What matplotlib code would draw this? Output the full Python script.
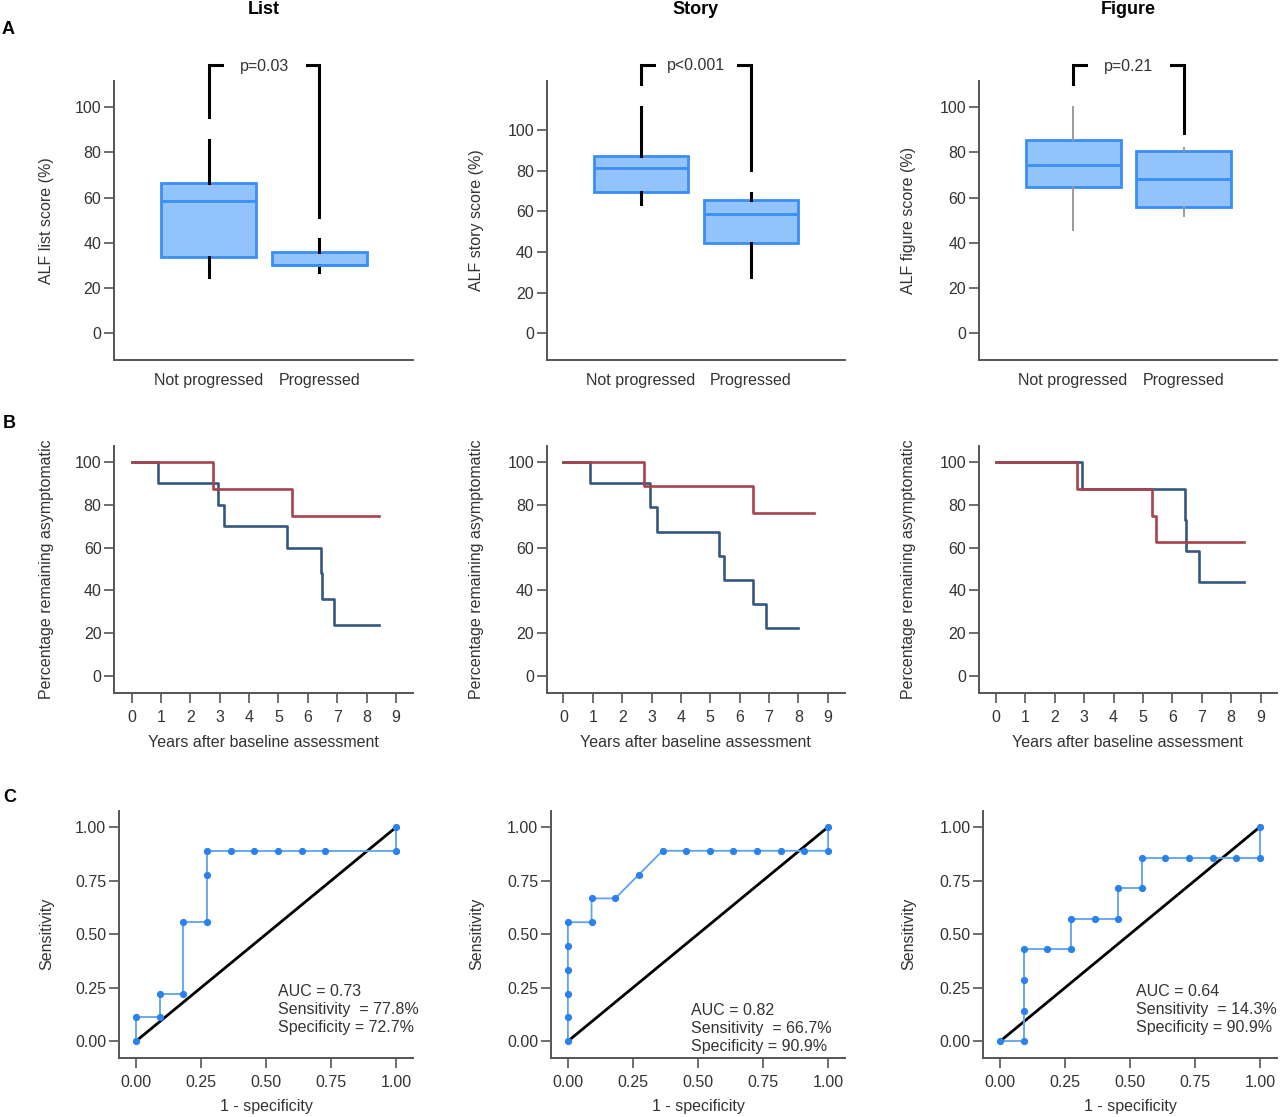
import matplotlib
matplotlib.use("Agg")
import matplotlib.pyplot as plt

plt.rcParams['font.family'] = ['Liberation Sans', 'DejaVu Sans']

# ---------------- data ----------------
titles = ["List", "Story", "Figure"]
groups = ["Not progressed", "Progressed"]
box_ylabels = ["ALF list score (%)", "ALF story score (%)", "ALF figure score (%)"]
# [whislo, q1, median, q3, whishi] per group
list_np = [25.0, 33.9, 58.5, 66.4, 85.5]
list_p = [27.3, 30.2, 30.2, 36.0, 41.6]
story_np = [63.6, 69.7, 81.5, 87.4, 111.2]
story_p = [27.9, 44.6, 58.8, 65.6, 69.2]
figure_np = [45.7, 64.9, 74.6, 85.4, 100.0]
figure_p = [51.9, 56.0, 68.1, 80.8, 82.1]
p_values = ["p=0.03", "p<0.001", "p=0.21"]
# bracket: left leg bottom, right leg bottom, top
brackets = [[95.6, 51.6, 118.7], [122.5, 80.3, 132.0], [110.2, 88.5, 118.7]]

# Kaplan-Meier curves (years, % remaining asymptomatic)
km_list_blue_t = [0, 0.91, 2.93, 3.14, 5.28, 6.44, 6.47, 6.89, 8.43]
km_list_blue_s = [100, 90, 80, 70, 60, 48, 36, 24, 24]
km_list_red_t = [0, 2.76, 5.47, 8.43]
km_list_red_s = [100, 87.5, 75, 75]
km_story_blue_t = [0, 0.92, 2.94, 3.17, 5.30, 5.48, 6.45, 6.90, 8.0]
km_story_blue_s = [100, 90, 78.9, 67.5, 56.3, 45, 33.8, 22.5, 22.5]
km_story_red_t = [0, 2.76, 6.45, 8.54]
km_story_red_s = [100, 88.9, 76.2, 76.2]
km_figure_blue_t = [0, 2.94, 6.43, 6.46, 6.90, 8.45]
km_figure_blue_s = [100, 87.5, 72.9, 58.3, 43.8, 43.8]
km_figure_red_t = [0, 2.77, 5.29, 5.44, 8.45]
km_figure_red_s = [100, 87.5, 75, 62.5, 62.5]

# ROC curves
roc_list_x = [0, 0, 1/11, 1/11, 2/11, 2/11, 3/11, 3/11, 3/11, 4/11, 5/11, 6/11, 7/11, 8/11, 1, 1]
roc_list_y = [0, 1/9, 1/9, 2/9, 2/9, 5/9, 5/9, 7/9, 8/9, 8/9, 8/9, 8/9, 8/9, 8/9, 8/9, 1]
roc_story_x = [0, 0, 0, 0, 0, 0, 1/11, 1/11, 2/11, 3/11, 4/11, 5/11, 6/11, 7/11, 8/11, 9/11, 10/11, 1, 1]
roc_story_y = [0, 1/9, 2/9, 3/9, 4/9, 5/9, 5/9, 6/9, 6/9, 7/9, 8/9, 8/9, 8/9, 8/9, 8/9, 8/9, 8/9, 8/9, 1]
roc_figure_x = [0, 1/11, 1/11, 1/11, 1/11, 2/11, 3/11, 3/11, 4/11, 5/11, 5/11, 6/11, 6/11, 7/11, 8/11, 9/11, 10/11, 1, 1]
roc_figure_y = [0, 0, 1/7, 2/7, 3/7, 3/7, 3/7, 4/7, 4/7, 4/7, 5/7, 5/7, 6/7, 6/7, 6/7, 6/7, 6/7, 6/7, 1]
roc_texts = ["AUC = 0.73\nSensitivity  = 77.8%\nSpecificity = 72.7%",
             "AUC = 0.82\nSensitivity  = 66.7%\nSpecificity = 90.9%",
             "AUC = 0.64\nSensitivity  = 14.3%\nSpecificity = 90.9%"]

box_stats = [(list_np, list_p), (story_np, story_p), (figure_np, figure_p)]
km_data = [(km_list_blue_t, km_list_blue_s, km_list_red_t, km_list_red_s),
           (km_story_blue_t, km_story_blue_s, km_story_red_t, km_story_red_s),
           (km_figure_blue_t, km_figure_blue_s, km_figure_red_t, km_figure_red_s)]
roc_data = [(roc_list_x, roc_list_y), (roc_story_x, roc_story_y), (roc_figure_x, roc_figure_y)]

# ---------------- styling ----------------
W, H = 1280, 1117
fig = plt.figure(figsize=(W / 100, H / 100), dpi=100)

SPINE = "#555555"
TXT = "#333333"
FS = 11.5
BOX_FACE = "#93c3fb"
BOX_EDGE = "#3a8ef5"
KM_BLUE = "#35587e"
KM_RED = "#a8424c"
ROC_LINE = "#5ea3f0"
ROC_DOT = "#2a82ee"


def px_axes(x0, y0, x1, y1):
    return fig.add_axes([x0 / W, 1 - y1 / H, (x1 - x0) / W, (y1 - y0) / H])


def style(ax, xticklen=10):
    for s in ["top", "right"]:
        ax.spines[s].set_visible(False)
    for s in ["left", "bottom"]:
        ax.spines[s].set_color(SPINE)
        ax.spines[s].set_linewidth(1.4)
    ax.tick_params(axis="y", length=10 * 0.72, width=1.2, color=SPINE,
                   labelsize=FS, labelcolor=TXT, pad=2)
    ax.tick_params(axis="x", length=xticklen * 0.72, width=1.2, color=SPINE,
                   labelsize=FS, labelcolor=TXT)


def set_ylabel(ax, text, x_px, ax_left, ax_width):
    ax.set_ylabel(text, fontsize=FS, color=TXT)
    ax.yaxis.set_label_coords(-(ax_left - x_px) / ax_width, 0.5)
    ax.yaxis.label.set_verticalalignment("center")


# axes pixel positions
rowA_x = [(114, 413), (546.7, 845), (979, 1277)]
rowA_y = (81, 360)
rowB_x = [(114.3, 413.3), (546.7, 845), (979, 1276.7)]
rowB_y = (446, 693.3)
rowC_x = [(119, 413.3), (551, 845), (983.3, 1276.7)]
rowC_y = (810.7, 1057.7)

box_xlims = [(0.14, 2.85), (0.143, 2.855), (0.149, 2.846)]
box_ylims = [(-11.8, 111.6), (-13.1, 124.1), (-11.8, 111.6)]
km_xlims = [(-0.59, 9.59), (-0.57, 9.59), (-0.58, 9.55)]

# ---------------- Row A: box plots ----------------
for i in range(3):
    x0, x1 = rowA_x[i]
    ax = px_axes(x0, rowA_y[0], x1, rowA_y[1])
    style(ax, xticklen=0)
    stats = []
    for g, s in zip(groups, box_stats[i]):
        stats.append(dict(label=g, whislo=s[0], q1=s[1], med=s[2], q3=s[3], whishi=s[4]))
    whisk_col = "#9a9a9a" if i == 2 else "black"
    whisk_lw = 1.4 if i == 2 else 2.2
    ax.bxp(stats, positions=[1, 2], widths=0.86, patch_artist=True, showcaps=False,
           showfliers=False,
           boxprops=dict(facecolor=BOX_FACE, edgecolor=BOX_EDGE, linewidth=2.0),
           medianprops=dict(color=BOX_EDGE, linewidth=2.0),
           whiskerprops=dict(color=whisk_col, linewidth=whisk_lw))
    # whiskers behind boxes
    ax.set_xlim(*box_xlims[i])
    ax.set_ylim(*box_ylims[i])
    ax.set_yticks([0, 20, 40, 60, 80, 100])
    ax.set_xticks([1, 2])
    ax.set_xticklabels(groups)
    ax.tick_params(axis="x", pad=9)
    set_ylabel(ax, box_ylabels[i], 46.7 + (0 if i == 0 else (430 if i == 1 else 862)), x0, x1 - x0)
    lb, rb, top = brackets[i]
    ax.plot([1, 1, 1.12], [lb, top, top], color="black", lw=2.2, clip_on=False,
            solid_joinstyle="miter")
    ax.plot([1.885, 2, 2], [top, top, rb], color="black", lw=2.2, clip_on=False,
            solid_joinstyle="miter")
    ax.text(1.5, top - 0.5, p_values[i], ha="center", va="center", fontsize=FS,
            color=TXT, clip_on=False)
    fig.text((x0 + x1) / 2 / W + (0.0 if i != 0 else -0.0), 1 - 10 / H, titles[i],
             ha="center", va="center", fontsize=13, fontweight="bold", color="black")

# ---------------- Row B: Kaplan-Meier ----------------
for i in range(3):
    x0, x1 = rowB_x[i]
    ax = px_axes(x0, rowB_y[0], x1, rowB_y[1])
    style(ax)
    bt, bs, rt, rs = km_data[i]
    ax.step(bt, bs, where="post", color=KM_BLUE, lw=1.9)
    ax.step(rt, rs, where="post", color=KM_RED, lw=1.9)
    ax.set_xlim(*km_xlims[i])
    ax.set_ylim(-8.1, 107.5)
    ax.set_yticks([0, 20, 40, 60, 80, 100])
    ax.set_xticks(range(10))
    ax.tick_params(axis="x", pad=5)
    ax.set_xlabel("Years after baseline assessment", fontsize=FS, color=TXT, labelpad=7)
    set_ylabel(ax, "Percentage remaining asymptomatic",
               46.7 + (0 if i == 0 else (430 if i == 1 else 862)), x0, x1 - x0)

# ---------------- Row C: ROC ----------------
roc_text_x = [0.547, 0.472, 0.522]
roc_text_y = [0.146, 0.058, 0.146]
for i in range(3):
    x0, x1 = rowC_x[i]
    ax = px_axes(x0, rowC_y[0], x1, rowC_y[1])
    style(ax)
    rx, ry = roc_data[i]
    ax.plot([0, 1], [0, 1], color="black", lw=2.0, zorder=2)
    ax.plot(rx, ry, color=ROC_LINE, lw=1.3, zorder=3)
    ax.plot(rx, ry, linestyle="none", marker="o", ms=4.2, color=ROC_DOT, zorder=4)
    ax.set_xlim(-0.065, 1.065)
    ax.set_ylim(-0.077, 1.076)
    ticks = [0, 0.25, 0.5, 0.75, 1.0]
    ax.set_xticks(ticks)
    ax.set_xticklabels(["0.00", "0.25", "0.50", "0.75", "1.00"])
    ax.set_yticks(ticks)
    ax.set_yticklabels(["0.00", "0.25", "0.50", "0.75", "1.00"])
    ax.tick_params(axis="x", pad=5)
    ax.set_xlabel("1 - specificity", fontsize=FS, color=TXT, labelpad=7)
    set_ylabel(ax, "Sensitivity", 46.7 + (0 if i == 0 else (430 if i == 1 else 862)), x0, x1 - x0)
    ax.text(roc_text_x[i], roc_text_y[i], roc_texts[i], ha="left", va="center",
            fontsize=FS, color=TXT, linespacing=1.25, clip_on=False)

# panel letters
fig.text(8 / W, 1 - 30 / H, "A", ha="center", va="center", fontsize=13, fontweight="bold")
fig.text(9.3 / W, 1 - 423 / H, "B", ha="center", va="center", fontsize=13, fontweight="bold")
fig.text(9.3 / W, 1 - 798 / H, "C", ha="center", va="center", fontsize=13, fontweight="bold")

fig.savefig("out.png", dpi=100, facecolor="white")
